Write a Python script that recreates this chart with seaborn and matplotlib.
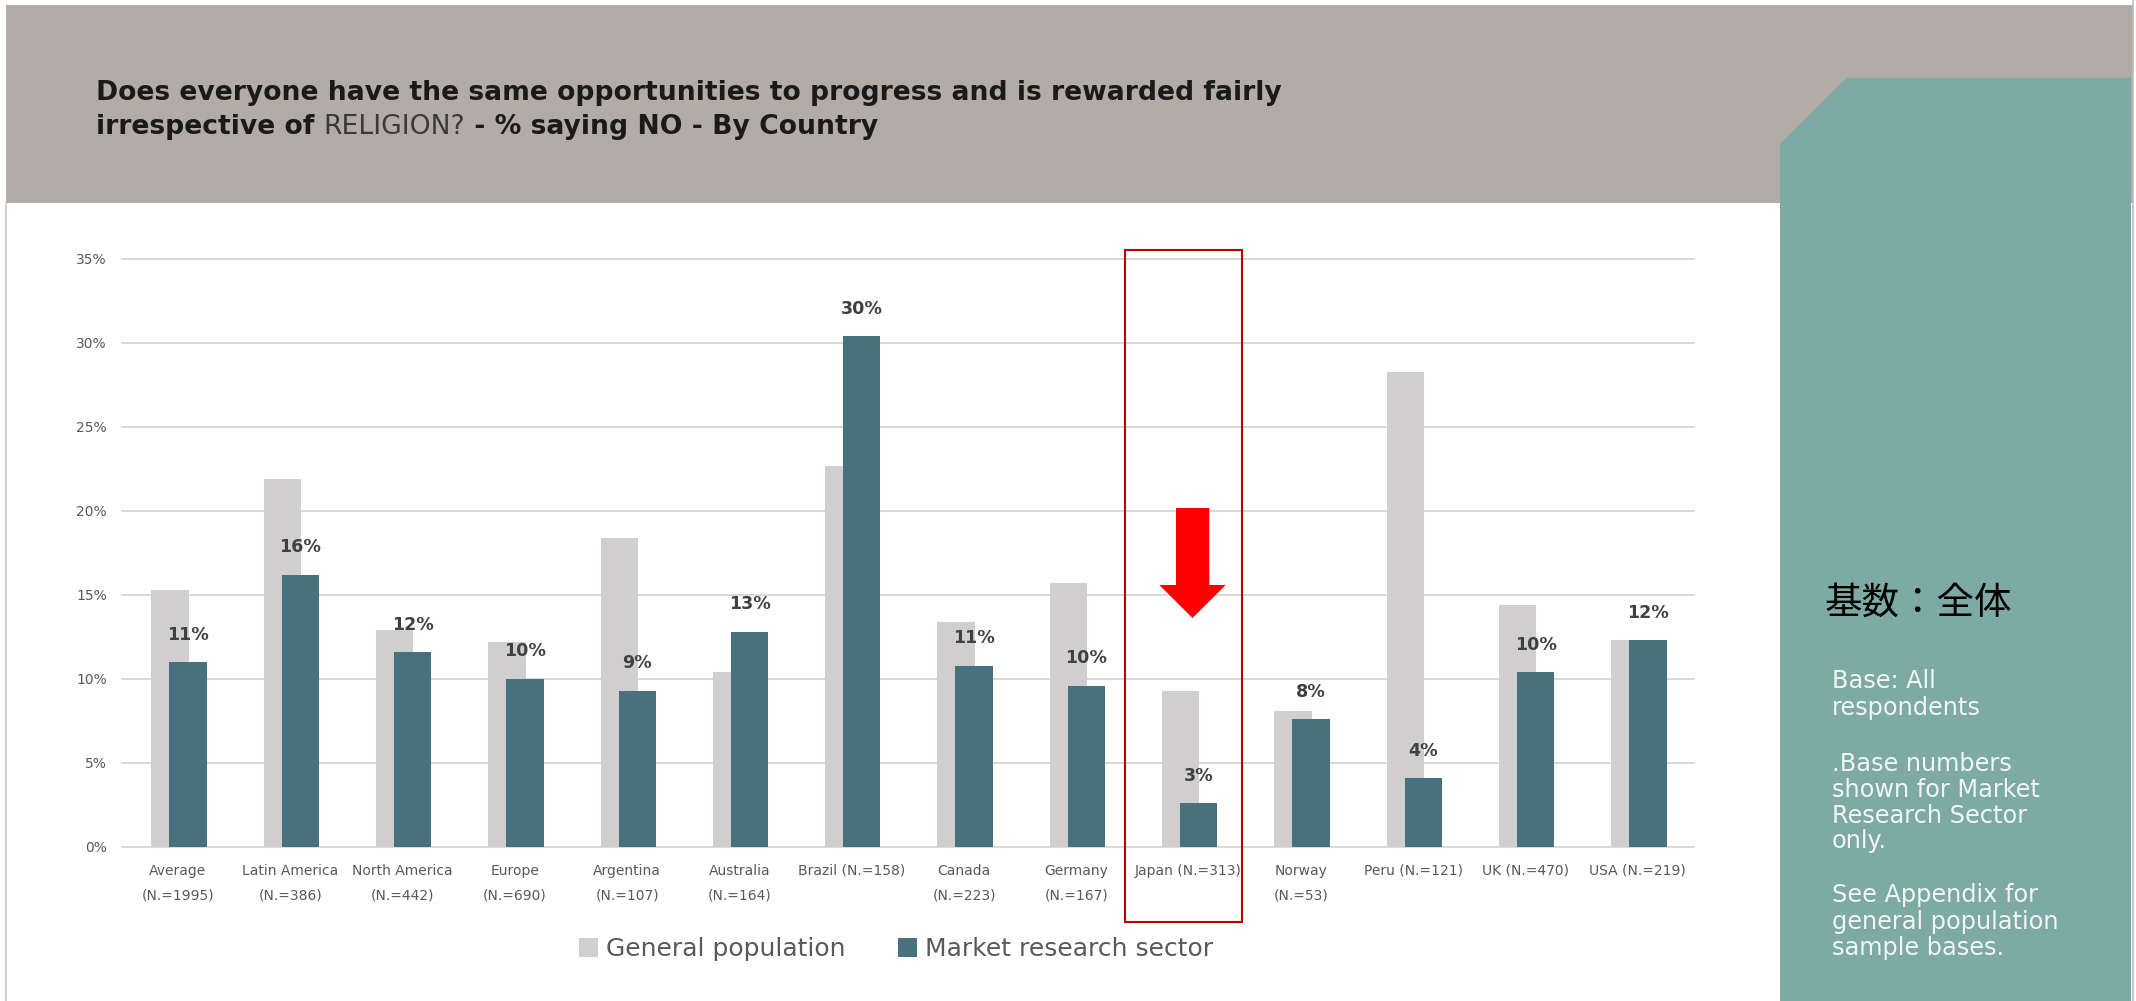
import matplotlib
matplotlib.use("Agg")
import matplotlib.pyplot as plt
import seaborn as sns
from matplotlib.patches import Rectangle, Polygon, Patch
from matplotlib.lines import Line2D

# ---- data -------------------------------------------------------------
categories = [
    "Average\n(N.=1995)", "Latin America\n(N.=386)", "North America\n(N.=442)",
    "Europe\n(N.=690)", "Argentina\n(N.=107)", "Australia\n(N.=164)",
    "Brazil (N.=158)", "Canada\n(N.=223)", "Germany\n(N.=167)",
    "Japan (N.=313)", "Norway\n(N.=53)", "Peru (N.=121)",
    "UK (N.=470)", "USA (N.=219)",
]
general_population = [15.3, 21.9, 12.9, 12.2, 18.4, 10.4, 22.7, 13.4, 15.7, 9.3, 8.1, 28.3, 14.4, 12.3]
market_research = [11.0, 16.2, 11.6, 10.0, 9.3, 12.8, 30.4, 10.8, 9.6, 2.6, 7.6, 4.1, 10.4, 12.3]
series_names = ["General population", "Market research sector"]
y_ticks = [0, 5, 10, 15, 20, 25, 30, 35]

title_line1 = "Does everyone have the same opportunities to progress and is rewarded fairly"
title_line2 = ["irrespective of ", "RELIGION?", " - % saying NO - By Country"]
side_heading = "基数：全体"
side_notes = [
    ["Base: All", "respondents"],
    [".Base numbers", "shown for Market", "Research Sector", "only."],
    ["See Appendix for", "general population", "sample bases."],
]

# ---- styling ----------------------------------------------------------
GRAY_BAR = "#d0cece"
TEAL_BAR = "#48707d"
HEADER = "#b3aca6"
PANEL = "#7eaaa4"
GRID = "#d9d9d9"
TEXT = "#595959"

W, H = 2136, 1001
sns.set_style("white")
plt.rcParams["font.family"] = ["DejaVu Sans"]

fig = plt.figure(figsize=(W / 100, H / 100), dpi=100)
fig.patch.set_facecolor("white")


def fx(px):
    return px / W


def fy(py):
    return 1 - py / H


# header band and side panel
fig.patches.append(Rectangle((fx(6), fy(203)), fx(2133) - fx(6), fy(5) - fy(203),
                             transform=fig.transFigure, facecolor=HEADER,
                             edgecolor="none", zorder=-5))
fig.lines.append(Line2D([fx(6), fx(6)], [fy(203), 0], transform=fig.transFigure,
                        color="#c8c8c8", lw=1.2, zorder=-5))
panel_pts = [(1780, 1001), (1780, 144), (1847, 77.7), (2131, 77.7), (2131, 1001)]
fig.patches.append(Polygon([(fx(x), fy(y)) for x, y in panel_pts], closed=True,
                           transform=fig.transFigure, facecolor=PANEL,
                           edgecolor="none", zorder=-4))
fig.lines.append(Line2D([fx(2132.5), fx(2132.5)], [0, 1], transform=fig.transFigure,
                        color="#bdbdbd", lw=1.2, zorder=-4))

# ---- bars -------------------------------------------------------------
ax = fig.add_axes([fx(121.7), fy(847), fx(1694) - fx(121.7), fy(259) - fy(847)])
ax.set_facecolor("none")

bar_w = 0.332
sns.barplot(x=categories, y=general_population, color=GRAY_BAR, saturation=1,
            width=bar_w, errorbar=None, ax=ax, zorder=2, linewidth=0,
            edgecolor="none")
n_first = len(ax.patches)
for p in ax.patches[:n_first]:
    p.set_x(p.get_x() - 0.07)
sns.barplot(x=categories, y=market_research, color=TEAL_BAR, saturation=1,
            width=bar_w, errorbar=None, ax=ax, zorder=3, linewidth=0,
            edgecolor="none")
for p in ax.patches[n_first:]:
    p.set_x(p.get_x() + 0.09)

for i, v in enumerate(market_research):
    ax.annotate(f"{v:.0f}%", xy=(i + 0.09, v), xytext=(0, 19.8),
                textcoords="offset points", ha="center", va="center",
                fontsize=12.6, fontweight="bold", color="#404040", zorder=4)

ax.set_xlim(-0.5, len(categories) - 0.5)
ax.set_ylim(0, 35)
ax.set_yticks(y_ticks)
ax.set_yticklabels([f"{t}%" for t in y_ticks])
ax.set_xlabel("")
ax.set_ylabel("")
ax.yaxis.grid(True, color=GRID, lw=1.4)
ax.xaxis.grid(False)
for gl in ax.get_ygridlines():
    gl.set_clip_on(False)
ax.set_axisbelow(True)
for s in ax.spines.values():
    s.set_visible(False)
ax.tick_params(axis="y", length=0, pad=10.8, labelsize=10, labelcolor=TEXT)
ax.tick_params(axis="x", length=0, pad=12, labelsize=10, labelcolor=TEXT)
for lab in ax.get_xticklabels():
    lab.set_linespacing(1.95)

# ---- legend -----------------------------------------------------------
handles = [Patch(facecolor=GRAY_BAR, edgecolor="none"),
           Patch(facecolor=TEAL_BAR, edgecolor="none")]
fig.legend(handles, series_names, loc="center", bbox_to_anchor=(fx(896), fy(949)),
           ncol=2, frameon=False, fontsize=18, handlelength=0.76, handleheight=0.76,
           handletextpad=0.34, columnspacing=2.07, labelcolor=TEXT)

# ---- highlight around Japan -------------------------------------------
fig.patches.append(Rectangle((fx(1125), fy(921.7)), fx(1241.7) - fx(1125),
                             fy(249.5) - fy(921.7), transform=fig.transFigure,
                             fill=False, edgecolor="#c00000", lw=1.5, zorder=6))
arrow_pts = [(1176, 508), (1209.3, 508), (1209.3, 585), (1225.7, 585),
             (1192.5, 618), (1159.3, 585), (1176, 585)]
fig.patches.append(Polygon([(fx(x), fy(y)) for x, y in arrow_pts], closed=True,
                           transform=fig.transFigure, facecolor="#ff0000",
                           edgecolor="none", zorder=6))

# ---- title (second line mixes bold and regular weight) ----------------
TITLE_SIZE = 19.2
fig.text(fx(96), fy(93), title_line1, ha="left", va="center", fontsize=TITLE_SIZE,
         fontweight="bold", color="#1a1a1a")
t_a = fig.text(fx(96), fy(127), title_line2[0], ha="left", va="center",
               fontsize=TITLE_SIZE, fontweight="bold", color="#1a1a1a")
t_rel = ax.annotate(title_line2[1], xy=(1, 0), xycoords=t_a, ha="left", va="bottom",
                    fontsize=TITLE_SIZE, fontweight="normal", color="#3a3a3a",
                    annotation_clip=False)
ax.annotate(title_line2[2], xy=(1, 0), xycoords=t_rel, ha="left",
            va="bottom", fontsize=TITLE_SIZE, fontweight="bold", color="#1a1a1a",
            annotation_clip=False)

# ---- side panel text --------------------------------------------------
fig.text(fx(1825), fy(603), side_heading, ha="left", va="center", fontsize=27,
         color="black", family=["Noto Sans CJK JP", "DejaVu Sans"])
note_rows = [[681, 708], [764, 790, 816, 841], [895, 922, 948]]
for block, rows in zip(side_notes, note_rows):
    for line, yy in zip(block, rows):
        fig.text(fx(1832), fy(yy), line, ha="left", va="center", fontsize=17.3,
                 color="#f2f6f5")

fig.savefig("out.png", dpi=100)
